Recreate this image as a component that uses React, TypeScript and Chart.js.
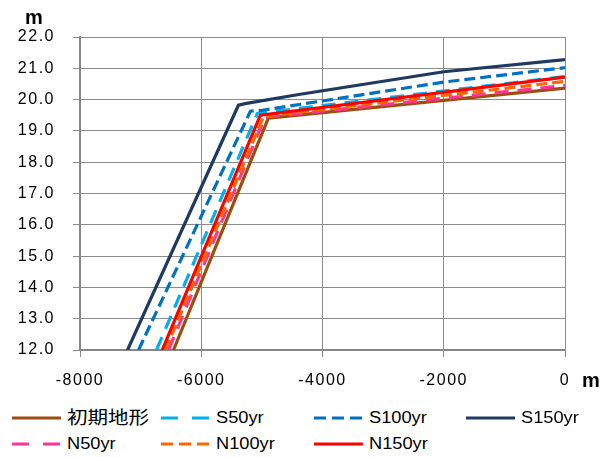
import React, { useEffect, useRef } from "react";
import { Chart, registerables } from "chart.js";

Chart.register(...registerables);

// ---- data ----
const seriesNames = ["初期地形", "S50yr", "S100yr", "S150yr", "N50yr", "N100yr", "N150yr"];

const initialX = [-6458, -4893, 0];
const initialY = [12.0, 19.41, 20.37];

const s50X = [-6738, -5074, 0];
const s50Y = [12.0, 19.56, 20.74];

const s100X = [-7034, -5189, -4992, -2000, 0];
const s100Y = [12.0, 19.63, 19.66, 20.56, 21.02];

const s150X = [-7216, -5387, -5255, -4366, -2000, 0];
const s150Y = [12.0, 19.82, 19.88, 20.17, 20.89, 21.28];

const n50X = [-6540, -4950, 0];
const n50Y = [12.0, 19.44, 20.45];

const n100X = [-6590, -4970, 0];
const n100Y = [12.0, 19.47, 20.58];

const n150X = [-6644, -5025, 0];
const n150Y = [12.0, 19.5, 20.72];

const xTicks = [-8000, -6000, -4000, -2000, 0];
const yTicks = [12, 13, 14, 15, 16, 17, 18, 19, 20, 21, 22];

// ---- styles ----
const seriesColors = ["#9E4D0E", "#00B0F0", "#0070C0", "#1F3A60", "#FF3399", "#FF6600", "#FF0000"];
const plotDashes: number[][] = [[], [14, 9], [11, 5], [], [14, 9], [11, 5], []];
const legendDashes = ["", "17 14", "12 6", "", "17 14", "12 6", ""];

const FONT = '"Liberation Sans", Arial, sans-serif';
const CJK_FONT = '"Liberation Sans", Arial, "Noto Sans CJK JP", sans-serif';

const allX = [initialX, s50X, s100X, s150X, n50X, n100X, n150X];
const allY = [initialY, s50Y, s100Y, s150Y, n50Y, n100Y, n150Y];

const spacingPlugin = {
  id: "spacing",
  beforeDraw(chart: any) {
    (chart.ctx as any).letterSpacing = "1.5px";
  },
};

export default function App() {
  const ref = useRef<HTMLCanvasElement | null>(null);

  useEffect(() => {
    if (!ref.current) return;
    const datasets = seriesNames.map((name, i) => ({
      label: name,
      data: allX[i].map((x, j) => ({ x, y: allY[i][j] })),
      borderColor: seriesColors[i],
      backgroundColor: seriesColors[i],
      borderWidth: 3.2,
      borderDash: plotDashes[i],
      pointRadius: 0,
      tension: 0,
      fill: false,
      order: seriesNames.length - i,
    }));

    const chart = new Chart(ref.current, {
      type: "line",
      data: { datasets },
      plugins: [spacingPlugin],
      options: {
        responsive: false,
        animation: false,
        devicePixelRatio: 1,
        layout: { padding: { left: 0, right: 40, top: 29, bottom: 0 } },
        plugins: { legend: { display: false }, tooltip: { enabled: false } },
        scales: {
          x: {
            type: "linear",
            min: xTicks[0],
            max: xTicks[xTicks.length - 1],
            afterBuildTicks: (s: any) => {
              s.ticks = xTicks.map((v) => ({ value: v }));
            },
            ticks: {
              callback: (v: any) => String(v),
              color: "#000",
              font: { family: FONT, size: 16 },
              padding: 14,
              maxRotation: 0,
              autoSkip: false,
            },
            grid: { color: "#8c8c8c", lineWidth: 1, tickLength: 7, tickColor: "#8c8c8c" },
            border: { color: "#868686", width: 2 },
            afterFit: (s: any) => {
              s.height = 43;
            },
          },
          y: {
            type: "linear",
            min: yTicks[0],
            max: yTicks[yTicks.length - 1],
            afterBuildTicks: (s: any) => {
              s.ticks = yTicks.map((v) => ({ value: v }));
            },
            ticks: {
              callback: (v: any) => Number(v).toFixed(1),
              color: "#000",
              font: { family: FONT, size: 16 },
              padding: 18,
              autoSkip: false,
            },
            grid: { color: "#8c8c8c", lineWidth: 1, tickLength: 7, tickColor: "#8c8c8c" },
            border: { color: "#868686", width: 2 },
            afterFit: (s: any) => {
              s.width = 72;
            },
          },
        },
      } as any,
    });
    return () => chart.destroy();
  }, []);

  const colLeft = [4, 153, 306, 458];
  const rowTop = [410, 436];
  const legendOrder = [
    [0, 0, 0], [1, 0, 1], [2, 0, 2], [3, 0, 3],
    [4, 1, 0], [5, 1, 1], [6, 1, 2],
  ];

  return (
    <div style={{ position: "relative", width: 597, height: 449, overflow: "visible" }}>
      <canvas ref={ref} width={597} height={385} style={{ position: "absolute", left: 0, top: 0, width: 597, height: 385 }} />
      <span
        style={{ position: "absolute", left: 17, top: -2, fontFamily: FONT, fontWeight: "bold", fontSize: 20, lineHeight: "22px", color: "#000" }}
      >
        m
      </span>
      <span
        style={{ position: "absolute", left: 574, top: 361, fontFamily: FONT, fontWeight: "bold", fontSize: 20, lineHeight: "22px", color: "#000" }}
      >
        m
      </span>
      {legendOrder.map(([si, r, c]) => (
        <div
          key={si}
          style={{ position: "absolute", left: colLeft[c], top: rowTop[r] - 11, height: 22, display: "flex", alignItems: "center", whiteSpace: "nowrap" }}
        >
          <svg width={49} height={8} style={{ display: "block" }}>
            <line x1={0} y1={4} x2={49} y2={4} stroke={seriesColors[si]} strokeWidth={3} strokeDasharray={legendDashes[si] || undefined} />
          </svg>
          <span
            style={{
              display: "inline-block",
              marginLeft: 6,
              fontFamily: si === 0 ? CJK_FONT : FONT,
              fontSize: si === 0 ? 18 : 16,
              color: "#000",
              transform: "scaleX(1.14)",
              transformOrigin: "left center",
              lineHeight: "22px",
            }}
          >
            {seriesNames[si]}
          </span>
        </div>
      ))}
    </div>
  );
}
